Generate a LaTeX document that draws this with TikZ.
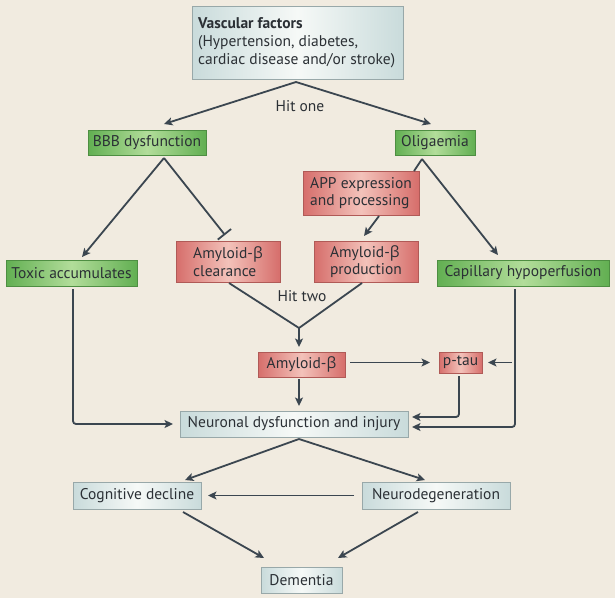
\documentclass[tikz,border=0pt]{standalone}
\usepackage{fontspec}
\setmainfont{PT Sans}
\newfontfamily\grk{Open Sans}
\newcommand{\bt}{{\grk β}}
\usetikzlibrary{arrows.meta,calc}
\definecolor{bg}{HTML}{F1EBE0}
\definecolor{ln}{HTML}{3B4650}
\definecolor{txt}{HTML}{2B3035}
\definecolor{gout}{HTML}{62AF52}
\definecolor{gin}{HTML}{B2DD9A}
\definecolor{gbd}{HTML}{4E8E42}
\definecolor{rout}{HTML}{D66E6B}
\definecolor{rin}{HTML}{F3C2BA}
\definecolor{rbd}{HTML}{B05A57}
\definecolor{bout}{HTML}{C9DBDB}
\definecolor{bin}{HTML}{F6F9F7}
\definecolor{bbd}{HTML}{98A8A9}
\tikzset{
  box/.style={inner sep=0pt, outer sep=0pt, font=\fontsize{15.5}{17.5}\selectfont, text=txt, line width=0.8pt},
  gbox/.style={box, draw=gbd, left color=gout, right color=gout, middle color=gin},
  rbox/.style={box, draw=rbd, left color=rout, right color=rout, middle color=rin},
  bbox/.style={box, draw=bbd, left color=bout, right color=bout, middle color=bin},
  arr/.style={draw=ln, line width=1.8pt, -{Stealth[length=8.5pt,width=8pt,inset=2pt]}},
  plain/.style={draw=ln, line width=1.8pt},
  barr/.style={draw=ln, line width=1.8pt, -{Bar[width=17pt,line width=1.8pt]}},
  lab/.style={font=\fontsize{15.5}{17.5}\selectfont, text=txt, inner sep=0pt}
}
\begin{document}
\begin{tikzpicture}[x=1pt,y=-1pt]
\fill[bg] (0,0) rectangle (615,598);
\useasboundingbox (0,0) rectangle (615,598);

\node[bbox, minimum width=211pt, minimum height=73pt] (vasc) at (297.5,42.5) {};
\node[lab, anchor=west, align=left, font=\fontsize{15.5}{18}\selectfont] (vasctxt) at (198,42.5) {\textbf{Vascular factors}\\(Hypertension, diabetes,\\cardiac disease and/or stroke)};

\node[gbox, minimum width=118pt, minimum height=25pt] (bbb) at (147,142.5) {BBB dysfunction};
\node[gbox, minimum width=80pt, minimum height=25pt] (olig) at (435,142.5) {Oligaemia};
\node[rbox, minimum width=116pt, minimum height=44pt, align=left] (app) at (361,193) {APP expression\\and processing};
\node[rbox, minimum width=104pt, minimum height=41pt, align=left] (clear) at (228,261.5) {Amyloid-\bt\\clearance};
\node[rbox, minimum width=104pt, minimum height=41pt, align=left] (prod) at (366,261.5) {Amyloid-\bt\\production};
\node[gbox, minimum width=131pt, minimum height=26pt] (toxic) at (71.5,273) {Toxic accumulates};
\node[gbox, minimum width=172pt, minimum height=26pt] (cap) at (523,273) {Capillary hypoperfusion};
\node[rbox, minimum width=87pt, minimum height=25pt] (abeta) at (301.5,364.5) {Amyloid-\bt};
\node[rbox, minimum width=43pt, minimum height=21pt] (ptau) at (460.5,362.5) {p-tau};
\node[bbox, minimum width=228pt, minimum height=26pt] (neur) at (294,424) {Neuronal dysfunction and injury};
\node[bbox, minimum width=128pt, minimum height=27pt] (cog) at (137,495.5) {Cognitive decline};
\node[bbox, minimum width=148pt, minimum height=27pt] (ndeg) at (436,495.5) {Neurodegeneration};
\node[bbox, minimum width=81pt, minimum height=26pt] (dem) at (301.5,580) {Dementia};

\node[lab] (hit1) at (300,106) {Hit one};
\node[lab] (hit2) at (302,296) {Hit two};

\coordinate (vtop) at ($(vasc.south)+(-1.5,3)$);
\draw[arr] (vtop) -- ([xshift=17pt,yshift=6pt]bbb.north);
\draw[arr] (vtop) -- ([xshift=-4pt,yshift=6pt]olig.north);

\coordinate (bbot) at ($(bbb.south)+(17,3)$);
\draw[arr] (bbot) -- ([xshift=10.5pt,yshift=3pt]toxic.north);
\draw[barr] (bbot) -- ([xshift=-3pt,yshift=6pt]clear.north);

\coordinate (obot) at ($(olig.south)+(-13,4)$);
\draw[arr] (obot) -- ([xshift=-25pt,yshift=5pt]cap.north);
\draw[plain] (obot) -- ([xshift=-5pt]app.north east);
\draw[arr] ([xshift=18pt,yshift=-1pt]app.south) -- ([xshift=-2pt,yshift=5pt]prod.north);

\coordinate (v) at (299,328);
\draw[plain] ([xshift=1pt,yshift=-1pt]clear.south) -- (v) -- ([xshift=-4pt,yshift=-1pt]prod.south);
\draw[arr] (v) -- ([yshift=5pt]abeta.north -| v);

\draw[arr] ([xshift=5pt]abeta.east |- ptau.west) -- ([xshift=-9pt]ptau.west);
\coordinate (pin) at (512,362.5);
\draw[arr] (pin) -- ([xshift=6pt]ptau.east);
\draw[arr] ([yshift=-2pt]abeta.south -| v) -- ([yshift=5pt]neur.north -| v);

\draw[arr, rounded corners=3pt] ([xshift=-1.5pt,yshift=-3pt]ptau.south) |- ([xshift=4pt,yshift=7pt]neur.east);
\draw[arr, rounded corners=3pt] ([xshift=-8pt,yshift=-3pt]cap.south) |- ([xshift=4pt,yshift=-3pt]neur.east);
\draw[arr, rounded corners=3pt] ([xshift=1.5pt,yshift=-3pt]toxic.south) |- ([xshift=-7pt]neur.west);

\coordinate (nbot) at ($(neur.south)+(5,2)$);
\draw[arr] (nbot) -- ([xshift=48pt,yshift=2pt]cog.north);
\draw[arr] (nbot) -- ([xshift=-11pt,yshift=2pt]ndeg.north);
\draw[arr] ([xshift=-8pt]ndeg.west) -- ([xshift=7pt]cog.east);
\draw[arr] ([xshift=46pt,yshift=-3pt]cog.south) -- ([xshift=-37.5pt,yshift=9pt]dem.north);
\draw[arr] ([xshift=-18pt,yshift=-3pt]ndeg.south) -- ([xshift=36.5pt,yshift=9pt]dem.north);
\end{tikzpicture}
\end{document}
